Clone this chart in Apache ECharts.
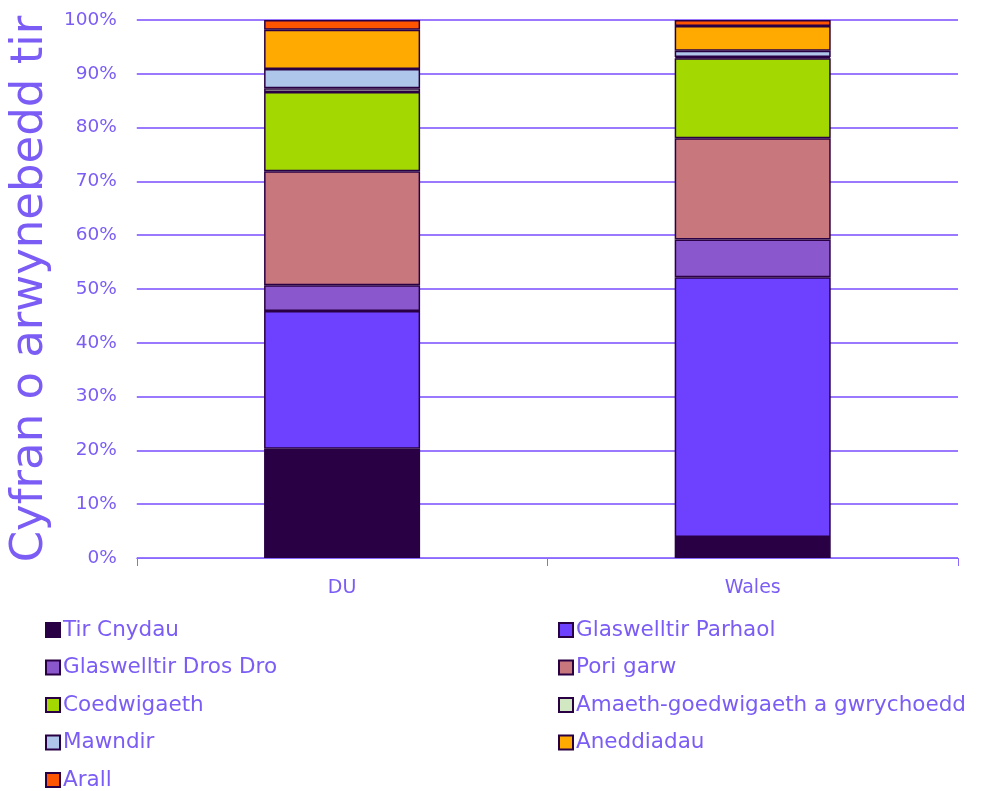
<!DOCTYPE html>
<html><head><meta charset="utf-8">
<script src="https://cdn.jsdelivr.net/npm/echarts@6/dist/echarts.min.js"></script>
<style>html,body{margin:0;padding:0;background:#fff}#c{width:1006px;height:791px}</style>
</head><body><div id="c"></div>
<script>
const categories = ['DU', 'Wales'];
const seriesNames = ['Tir Cnydau','Glaswelltir Parhaol','Glaswelltir Dros Dro','Pori garw','Coedwigaeth','Amaeth-goedwigaeth a gwrychoedd','Mawndir','Aneddiadau','Arall'];
const tirCnydau = [20.3, 3.9];
const glasParhaol = [25.6, 48.3];
const glasDrosDro = [4.8, 7.0];
const poriGarw = [21.2, 18.8];
const coedwigaeth = [14.7, 14.9];
const amaeth = [0.7, 0.2];
const mawndir = [3.6, 1.2];
const aneddiadau = [7.3, 4.6];
const arall = [1.8, 1.1];
const yTicks = [0,10,20,30,40,50,60,70,80,90,100];
const values = [tirCnydau, glasParhaol, glasDrosDro, poriGarw, coedwigaeth, amaeth, mawndir, aneddiadau, arall];
const colors = ['#2A0044','#6E40FF','#8B57CC','#C8777D','#A3D900','#D2E8C2','#AEC6EA','#FFAA00','#FF5500'];
const txt = '#7B5CF5';
const font = '"DejaVu Sans", sans-serif';
const chart = echarts.init(document.getElementById('c'));
chart.setOption({
  animation:false,
  grid:{left:135, right:48, top:20, bottom:233},
  xAxis:{type:'category', data:categories,
    axisLine:{lineStyle:{color:'#8A6BFF', width:1}},
    axisTick:{show:true, length:8, lineStyle:{color:'#8A6BFF'}},
    axisLabel:{color:txt, fontSize:19, fontFamily:font, margin:21}},
  yAxis:{type:'value', min:0, max:100, interval:10,
    name:'Cyfran o arwynebedd tir', nameLocation:'middle', nameGap:75,
    nameTextStyle:{color:txt, fontSize:45, fontFamily:font},
    axisLine:{show:false}, axisTick:{show:false},
    axisLabel:{color:txt, fontSize:18.5, fontFamily:font, margin:20, formatter:v=>v+'%'},
    splitLine:{lineStyle:{color:'#7A4DFF', width:1.5}}},
  legend:[
    {data:[seriesNames[0],seriesNames[2],seriesNames[4],seriesNames[6],seriesNames[8]], orient:'vertical', left:40, top:614, height:200, itemGap:15.5, itemWidth:14, itemHeight:14, icon:'rect',
     textStyle:{color:txt, fontSize:21.5, fontFamily:font, padding:[0,0,0,-2]}},
    {data:[seriesNames[1],seriesNames[3],seriesNames[5],seriesNames[7]], orient:'vertical', left:553, top:614, height:200, itemGap:15.5, itemWidth:14, itemHeight:14, icon:'rect',
     textStyle:{color:txt, fontSize:21.5, fontFamily:font, padding:[0,0,0,-2]}}
  ],
  series: seriesNames.map((n,i)=>({
    name:n, type:'bar', stack:'total', barWidth:'38%', data:values[i],
    itemStyle:{color:colors[i], borderColor:'#2A0044', borderWidth:1.5}
  }))
});
</script></body></html>
